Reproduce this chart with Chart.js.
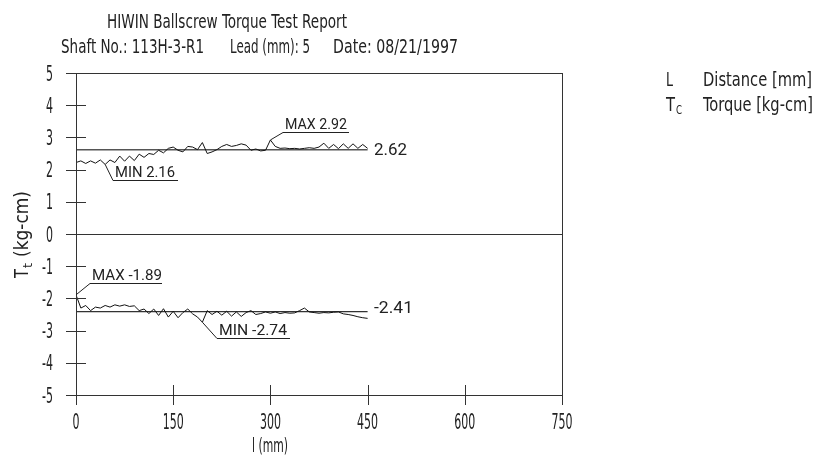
<!DOCTYPE html>
<html>
<head>
<meta charset="utf-8">
<script src="https://cdn.jsdelivr.net/npm/chart.js@4.4.1/dist/chart.umd.min.js"></script>
<style>
  html, body { margin: 0; padding: 0; background: #fff; }
  canvas { display: block; }
</style>
</head>
<body>
<canvas id="graficoTorque" width="816" height="456"></canvas>
<script>
// distance along the shaft (mm)
const distance = [
  0, 7.5, 15, 22.5, 30, 37.5, 45, 52.5, 60, 67.5,
  75, 82.5, 90, 97.5, 105, 112.5, 120, 127.5, 135, 142.5,
  150, 157.5, 165, 172.5, 180, 187.5, 195, 202.5, 210, 217.5,
  225, 232.5, 240, 247.5, 255, 262.5, 270, 277.5, 285, 292.5,
  300, 307.5, 315, 322.5, 330, 337.5, 345, 352.5, 360, 367.5,
  375, 382.5, 390, 397.5, 405, 412.5, 420, 427.5, 435, 442.5, 450
];
// torque, forward run (kg-cm)
const torqueForward = [
  2.22, 2.27, 2.19, 2.27, 2.2, 2.3, 2.16, 2.3, 2.22, 2.42,
  2.26, 2.42, 2.28, 2.48, 2.38, 2.5, 2.47, 2.6, 2.52, 2.66,
  2.7, 2.6, 2.55, 2.72, 2.7, 2.62, 2.84, 2.5, 2.55, 2.62,
  2.72, 2.78, 2.72, 2.75, 2.8, 2.76, 2.6, 2.64, 2.58, 2.6,
  2.92, 2.72, 2.66, 2.67, 2.65, 2.66, 2.64, 2.66, 2.68, 2.66,
  2.7, 2.82, 2.66, 2.78, 2.65, 2.8, 2.66, 2.8, 2.66, 2.78, 2.66
];
// torque, reverse run (kg-cm)
const torqueReverse = [
  -1.89, -2.3, -2.22, -2.38, -2.27, -2.3, -2.22, -2.27, -2.2, -2.24,
  -2.2, -2.25, -2.23, -2.38, -2.33, -2.47, -2.33, -2.53, -2.32, -2.58,
  -2.4, -2.6, -2.44, -2.33, -2.48, -2.58, -2.74, -2.38, -2.5, -2.4,
  -2.52, -2.4, -2.55, -2.42, -2.56, -2.44, -2.38, -2.5, -2.47, -2.42,
  -2.46, -2.42, -2.47, -2.44, -2.46, -2.45, -2.38, -2.3, -2.42, -2.44,
  -2.46, -2.44, -2.45, -2.43, -2.42, -2.48, -2.5, -2.53, -2.57, -2.6, -2.62
];
const meanForward = 2.62;
const meanReverse = -2.41;
const xTicks = [0, 150, 300, 450, 600, 750];
const yTicks = [5, 4, 3, 2, 1, 0, -1, -2, -3, -4, -5];

const NARROW = "'Liberation Sans Narrow','DejaVu Sans Condensed','Liberation Sans',sans-serif";
const PLAIN = "Roboto,'Liberation Sans',sans-serif";

// text squeezed to a given width (the original uses a condensed DIN face)
function texto(ctx, str, x, y, size, family, width, align, baseline) {
  ctx.save();
  ctx.font = size + 'px ' + family;
  ctx.textBaseline = baseline || 'alphabetic';
  ctx.textAlign = align || 'left';
  const w = ctx.measureText(str).width;
  const sx = width ? width / w : 1;
  ctx.translate(x, y);
  ctx.scale(sx, 1);
  ctx.fillText(str, 0, 0);
  ctx.restore();
}
function digitScale(ctx, size) {
  ctx.save();
  ctx.font = size + 'px ' + NARROW;
  const w = ctx.measureText('0').width;
  ctx.restore();
  return 7 / w;
}

const extras = {
  id: 'extras',
  afterDraw(chart) {
    const ctx = chart.ctx;
    const xs = chart.scales.x, ys = chart.scales.y;
    const left = xs.left, right = xs.right, top = ys.top, bottom = ys.bottom;
    ctx.save();
    ctx.fillStyle = '#222';

    // axes and crossing tick marks
    ctx.strokeStyle = '#333';
    ctx.lineWidth = 1;
    ctx.beginPath();
    ctx.moveTo(Math.round(left) + 0.5, top);
    ctx.lineTo(Math.round(left) + 0.5, bottom + 10);
    ctx.moveTo(Math.round(right) + 0.5, top);
    ctx.lineTo(Math.round(right) + 0.5, bottom + 10);
    yTicks.forEach(v => {
      const py = Math.round(ys.getPixelForValue(v)) + 0.5;
      ctx.moveTo(left - 10, py);
      ctx.lineTo(left + 10, py);
    });
    xTicks.forEach(v => {
      const px = Math.round(xs.getPixelForValue(v)) + 0.5;
      ctx.moveTo(px, bottom - 10);
      ctx.lineTo(px, bottom + 10);
    });
    ctx.stroke();

    // tick labels
    const ds = digitScale(ctx, 21);
    ctx.font = '21px ' + NARROW;
    yTicks.forEach(v => {
      const py = ys.getPixelForValue(v);
      ctx.save();
      ctx.translate(53, py + 7.5);
      ctx.scale(ds, 1);
      ctx.textAlign = 'right';
      ctx.fillText(String(v), 0, 0);
      ctx.restore();
    });
    xTicks.forEach(v => {
      const px = xs.getPixelForValue(v);
      ctx.save();
      ctx.translate(px, 429);
      ctx.scale(ds, 1);
      ctx.textAlign = 'center';
      ctx.fillText(String(v), 0, 0);
      ctx.restore();
    });

    // titles
    texto(ctx, 'HIWIN Ballscrew Torque Test Report', 107, 28, 19, NARROW, 240);
    texto(ctx, 'Shaft No.: 113H-3-R1', 61, 53, 19, NARROW, 143);
    texto(ctx, 'Lead (mm): 5', 230, 53, 19, NARROW, 80);
    texto(ctx, 'Date: 08/21/1997', 333, 53, 19, NARROW, 125);

    // legend on the right
    texto(ctx, 'L', 666, 86, 19, NARROW, 7);
    texto(ctx, 'Distance [mm]', 703, 86, 19, NARROW, 109);
    texto(ctx, 'T', 666, 111, 19, NARROW, 9);
    texto(ctx, 'C', 676, 114, 12, NARROW, 6);
    texto(ctx, 'Torque [kg-cm]', 703, 111, 19, NARROW, 110);

    // axis titles
    texto(ctx, 'l (mm)', 270, 452, 19, NARROW, 36, 'center');
    ctx.save();
    ctx.translate(28, 278);
    ctx.rotate(-Math.PI / 2);
    texto(ctx, 'T', 0, 0, 19, NARROW, 9);
    texto(ctx, 't', 10, 4, 13, NARROW, 5);
    texto(ctx, '(kg-cm)', 21, 0, 19, NARROW, 66);
    ctx.restore();

    // mean labels
    const yMf = ys.getPixelForValue(meanForward);
    const yMr = ys.getPixelForValue(meanReverse);
    texto(ctx, String(meanForward.toFixed(2)), 374, yMf + 1.5, 17, PLAIN, 33, 'left', 'middle');
    texto(ctx, String(meanReverse.toFixed(2)), 374, yMr - 3, 17, PLAIN, 39, 'left', 'middle');

    // MAX / MIN callouts
    function callout(series, pick, label, ex, ey, ux, tw) {
      const val = pick === 'max' ? Math.max(...series) : Math.min(...series);
      const i = series.indexOf(val);
      const px = xs.getPixelForValue(distance[i]);
      const py = ys.getPixelForValue(val);
      ctx.strokeStyle = '#222';
      ctx.lineWidth = 1;
      ctx.beginPath();
      ctx.moveTo(px, py);
      ctx.lineTo(ex, ey + 0.5);
      ctx.lineTo(ux, ey + 0.5);
      ctx.stroke();
      texto(ctx, label + ' ' + val.toFixed(2), ex + 2, ey - 3, 14, PLAIN, tw);
    }
    callout(torqueForward, 'max', 'MAX', 283, 132, 349, 62);
    callout(torqueForward, 'min', 'MIN', 113, 180, 178, 60);
    callout(torqueReverse, 'max', 'MAX', 90, 283, 162, 70);
    callout(torqueReverse, 'min', 'MIN', 217, 338, 290, 68);

    ctx.restore();
  }
};

const pts = arr => distance.map((d, i) => ({ x: d, y: arr[i] }));
const last = distance[distance.length - 1];

const ctxTorque = document.getElementById('graficoTorque').getContext('2d');
const graficoTorque = new Chart(ctxTorque, {
  type: 'line',
  data: {
    datasets: [
      { label: 'Forward', data: pts(torqueForward), borderColor: '#111', borderWidth: 1, pointRadius: 0, tension: 0 },
      { label: 'Reverse', data: pts(torqueReverse), borderColor: '#111', borderWidth: 1, pointRadius: 0, tension: 0 },
      { label: 'Mean fwd', data: [{ x: 0, y: meanForward }, { x: last, y: meanForward }], borderColor: '#555', borderWidth: 1.5, pointRadius: 0 },
      { label: 'Mean rev', data: [{ x: 0, y: meanReverse }, { x: last, y: meanReverse }], borderColor: '#333', borderWidth: 1.2, pointRadius: 0 }
    ]
  },
  options: {
    responsive: false,
    animation: false,
    devicePixelRatio: 1,
    layout: { padding: { top: 73, right: 254, left: 0, bottom: 0 } },
    plugins: { legend: { display: false }, tooltip: { enabled: false }, title: { display: false } },
    scales: {
      x: {
        type: 'linear', min: 0, max: 750,
        ticks: { display: false, stepSize: 150 },
        grid: { drawTicks: false, color: c => 'transparent' },
        border: { display: false },
        afterFit: s => { s.height = 61; }
      },
      y: {
        type: 'linear', min: -5, max: 5,
        ticks: { display: false, stepSize: 1 },
        grid: {
          drawTicks: false,
          color: c => ([5, 0, -5].includes(c.tick.value) ? '#333' : 'transparent')
        },
        border: { display: false },
        afterFit: s => { s.width = 76; }
      }
    }
  },
  plugins: [extras]
});
</script>
</body>
</html>
